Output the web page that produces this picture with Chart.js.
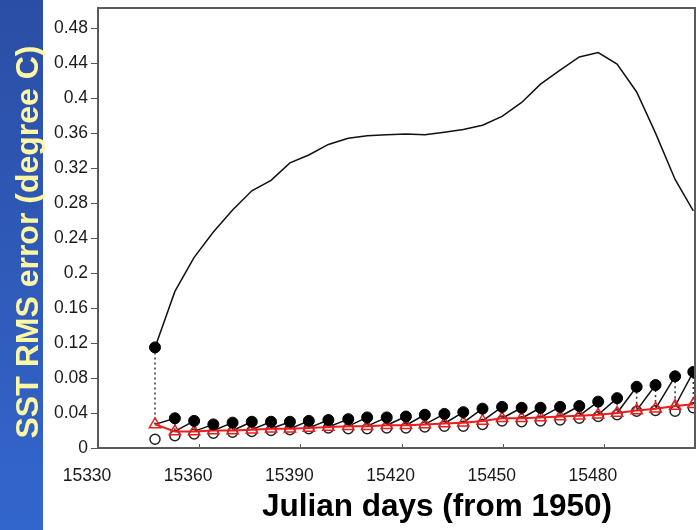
<!DOCTYPE html>
<html>
<head>
<meta charset="utf-8">
<script src="https://cdn.jsdelivr.net/npm/chart.js@4/dist/chart.umd.min.js"></script>
<style>
  html, body { margin: 0; padding: 0; background: #fff; }
  #rmsChart { display: block; }
</style>
</head>
<body>
<canvas id="rmsChart" width="697" height="530"></canvas>
<script>
// assimilation cycle times (Julian days from 1950)
const cycleDays = [15346.9, 15352.8, 15358.5, 15364.2, 15369.9, 15375.6, 15381.3, 15386.9, 15392.5, 15398.3,
  15404.2, 15409.8, 15415.6, 15421.3, 15426.9, 15432.7, 15438.3, 15444.0, 15449.8, 15455.6,
  15461.2, 15467.0, 15472.7, 15478.3, 15483.9, 15489.7, 15495.3, 15501.1, 15506.5];

// filled dots: forecast RMS at end of each cycle
const forecastRms = [0.115, 0.034, 0.031, 0.027, 0.029, 0.030, 0.030, 0.030, 0.031, 0.032,
  0.033, 0.035, 0.035, 0.036, 0.038, 0.039, 0.041, 0.045, 0.047, 0.046,
  0.046, 0.047, 0.048, 0.053, 0.057, 0.070, 0.072, 0.082, 0.087];

// red triangles: analysis RMS
const analysisRms = [0.027, 0.019, 0.019, 0.020, 0.020, 0.021, 0.022, 0.022, 0.023, 0.024,
  0.025, 0.025, 0.026, 0.026, 0.027, 0.028, 0.029, 0.031, 0.034, 0.034,
  0.035, 0.036, 0.037, 0.038, 0.040, 0.043, 0.045, 0.048, 0.050];

// open circles
const openRms = [0.010, 0.014, 0.016, 0.017, 0.018, 0.019, 0.020, 0.021, 0.022, 0.023,
  0.022, 0.022, 0.023, 0.023, 0.024, 0.025, 0.025, 0.027, 0.031, 0.030,
  0.031, 0.032, 0.034, 0.036, 0.038, 0.042, 0.043, 0.042, 0.046];

// free run (no assimilation)
const freeRunRms = [0.115, 0.179, 0.218, 0.247, 0.272, 0.294, 0.306, 0.326, 0.335, 0.347,
  0.354, 0.357, 0.358, 0.359, 0.358, 0.361, 0.364, 0.369, 0.379, 0.395,
  0.416, 0.432, 0.447, 0.452, 0.439, 0.407, 0.360, 0.307, 0.271];

const xTickValues = [15330, 15360, 15390, 15420, 15450, 15480];
const yTickValues = [0, 0.04, 0.08, 0.12, 0.16, 0.2, 0.24, 0.28, 0.32, 0.36, 0.4, 0.44, 0.48];
const yTickLabels = ["0", "0.04", "0.08", "0.12", "0.16", "0.2", "0.24", "0.28", "0.32", "0.36", "0.4", "0.44", "0.48"];

const yTitle = "SST RMS error (degree C)";
const xTitle = "Julian days (from 1950)";

const FONT = '"Liberation Sans", Arial, sans-serif';

function points(days, vals) {
  return days.map((d, i) => ({ x: d, y: vals[i] }));
}

// analysis -> next forecast, broken with nulls
function forecastSegments() {
  const pts = [];
  for (let i = 0; i < cycleDays.length - 1; i++) {
    pts.push({ x: cycleDays[i], y: analysisRms[i] });
    pts.push({ x: cycleDays[i + 1], y: forecastRms[i + 1] });
    pts.push({ x: cycleDays[i + 1], y: null });
  }
  return pts;
}

// vertical dotted drop forecast -> analysis
function updateDrops() {
  const pts = [];
  for (let i = 0; i < cycleDays.length; i++) {
    pts.push({ x: cycleDays[i], y: forecastRms[i] });
    pts.push({ x: cycleDays[i], y: analysisRms[i] });
    pts.push({ x: cycleDays[i], y: null });
  }
  return pts;
}

function noPad(s) {
  s.paddingTop = 0;
  s.paddingBottom = 0;
  s.paddingLeft = 0;
  s.paddingRight = 0;
}

const decor = {
  id: "decor",
  beforeDraw(chart) {
    const ctx = chart.ctx;
    ctx.save();
    ctx.fillStyle = "#fff";
    ctx.fillRect(0, 0, chart.width, chart.height);
    const g = ctx.createLinearGradient(0, 0, 0, chart.height);
    g.addColorStop(0, "#2b4ea5");
    g.addColorStop(1, "#3366cc");
    ctx.fillStyle = g;
    ctx.fillRect(0, 0, 43, chart.height);
    ctx.restore();
  },
  afterDraw(chart) {
    const { ctx, chartArea: a } = chart;
    const x = chart.scales.x;
    ctx.save();
    ctx.strokeStyle = "#5a5a5a";
    ctx.lineWidth = 2;
    ctx.strokeRect(a.left, a.top, a.right - a.left, a.bottom - a.top);
    ctx.lineWidth = 1;
    xTickValues.forEach(v => {
      const px = Math.round(x.getPixelForValue(v)) + 0.5;
      ctx.beginPath();
      ctx.moveTo(px, a.bottom);
      ctx.lineTo(px, a.bottom - 4);
      ctx.stroke();
    });
    ctx.restore();

    ctx.save();
    ctx.fillStyle = "#fdf7a4";
    ctx.font = "bold 32px " + FONT;
    ctx.translate(29, 242);
    ctx.rotate(-Math.PI / 2);
    ctx.textAlign = "center";
    ctx.textBaseline = "middle";
    ctx.fillText(yTitle, 0, 0);
    ctx.restore();

    ctx.save();
    ctx.fillStyle = "#000";
    ctx.font = "bold 31.5px " + FONT;
    ctx.textAlign = "center";
    ctx.textBaseline = "alphabetic";
    ctx.fillText(xTitle, 437, 516);
    ctx.restore();
  }
};

new Chart(document.getElementById("rmsChart"), {
  type: "line",
  data: {
    datasets: [
      {
        label: "forecast",
        data: points(cycleDays, forecastRms),
        showLine: false,
        pointRadius: 5.5,
        pointBackgroundColor: "#000",
        pointBorderColor: "#000",
        pointBorderWidth: 1
      },
      {
        label: "analysis",
        data: points(cycleDays, analysisRms),
        borderColor: "#ee1c1c",
        borderWidth: 2,
        pointStyle: "triangle",
        pointRadius: 6.5,
        pointBorderColor: "#ee1c1c",
        pointBackgroundColor: "rgba(0,0,0,0)",
        pointBorderWidth: 1.5
      },
      {
        label: "open",
        data: points(cycleDays, openRms),
        showLine: false,
        pointRadius: 5,
        pointBorderColor: "#222",
        pointBackgroundColor: "rgba(0,0,0,0)",
        pointBorderWidth: 1.5
      },
      {
        label: "segments",
        data: forecastSegments(),
        borderColor: "#111",
        borderWidth: 1.5,
        pointRadius: 0
      },
      {
        label: "drops",
        data: updateDrops(),
        borderColor: "#333",
        borderWidth: 1.5,
        borderDash: [2, 3],
        pointRadius: 0
      },
      {
        label: "free run",
        data: points(cycleDays, freeRunRms),
        borderColor: "#111",
        borderWidth: 1.5,
        pointRadius: 0
      }
    ]
  },
  options: {
    responsive: false,
    animation: false,
    devicePixelRatio: 1,
    layout: { autoPadding: false, padding: { top: 8, right: 2, left: 0, bottom: 0 } },
    plugins: { legend: { display: false }, tooltip: { enabled: false } },
    scales: {
      x: {
        type: "linear",
        min: 15330,
        max: 15507,
        afterBuildTicks: s => { s.ticks = xTickValues.map(v => ({ value: v })); },
        afterFit: s => { s.height = 82; noPad(s); },
        grid: { display: false, drawTicks: false },
        border: { display: false },
        ticks: {
          padding: 18,
          labelOffset: -11,
          maxRotation: 0,
          color: "#1a1a1a",
          font: { family: FONT, size: 17.5 },
          callback: v => String(v)
        }
      },
      y: {
        min: 0,
        max: 0.503,
        afterBuildTicks: s => { s.ticks = yTickValues.map(v => ({ value: v })); },
        afterFit: s => { s.width = 98; noPad(s); },
        grid: { display: true, drawOnChartArea: false, drawTicks: true, tickLength: 7, color: "#555" },
        border: { display: false },
        ticks: {
          padding: 3,
          color: "#1a1a1a",
          font: { family: FONT, size: 17.5 },
          callback: (v, i) => yTickLabels[i]
        }
      }
    }
  },
  plugins: [decor]
});
</script>
</body>
</html>
